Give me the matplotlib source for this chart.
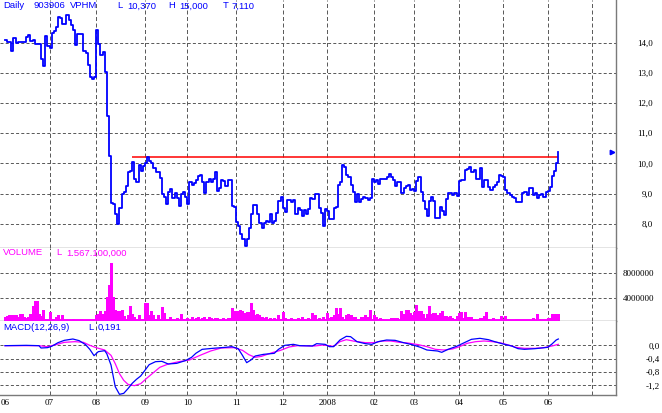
"""Daily chart 903906 VPHM: price, volume and MACD panels."""
import numpy as np
import pandas as pd
import matplotlib
matplotlib.use("Agg")
from matplotlib import pyplot as plt
from matplotlib import transforms

plt.rcParams['font.family'] = ['Liberation Sans', 'DejaVu Sans']

# ---------------------------------------------------------------------------
# Data (one value per trading day, from June 2007)
# ---------------------------------------------------------------------------
close = [
    14.08, 14.02, 14.02, 13.71, 14.14, 13.97, 14.01, 14.01, 14.01, 14.01,
    14.17, 14.25, 14.06, 14.08, 13.96, 13.96, 13.96, 13.46, 13.23, 14.22,
    13.89, 13.81, 14.31, 14.37, 14.51, 14.84, 14.82, 14.60, 14.61, 14.91,
    14.74, 14.58, 14.42, 13.92, 14.29, 14.27, 14.27, 13.71, 13.67, 13.26,
    12.85, 12.80, 12.86, 14.42, 13.95, 13.59, 13.68, 13.04, 11.57, 10.23,
    8.70, 8.66, 8.33, 8.00, 8.52, 8.98, 9.05, 9.25, 9.70, 9.75,
    10.05, 9.49, 9.37, 9.95, 9.74, 9.92,
    10.00, 10.20, 10.07, 10.03, 9.85, 9.71, 9.71, 9.51, 8.99, 8.88,
    8.66, 9.07, 9.14, 8.85, 9.01, 8.84, 8.59, 8.99, 9.05, 8.90,
    8.66, 9.37, 9.30, 9.34, 9.45, 9.60, 9.62, 9.37, 9.01, 9.37,
    9.50, 9.37, 9.50, 9.71, 9.10, 9.18, 9.45, 9.41, 9.25, 9.45,
    9.45, 8.60, 8.57, 8.07, 7.93, 7.68, 7.51, 7.27, 7.51, 7.85,
    8.33, 8.62, 8.62, 8.33, 8.04, 7.85, 8.02, 8.09, 8.07, 8.33,
    8.04, 8.09, 8.37, 8.75,
    8.90, 8.53, 8.39, 8.79, 8.79, 8.71, 8.79, 8.33, 8.53, 8.46,
    8.26, 8.46, 8.33, 8.49, 8.86, 8.82, 8.99, 8.99, 8.53, 8.37,
    7.93, 8.50, 8.41, 8.15, 8.15, 8.53, 8.57, 9.28, 9.37, 9.94,
    9.87, 9.63, 9.54, 9.28, 9.06, 8.73, 8.99, 8.73, 8.82, 8.90,
    8.84, 8.79, 8.85, 9.47, 9.39, 9.45, 9.32, 9.47, 9.47, 9.47,
    9.54, 9.65, 9.54, 9.45, 9.25, 9.39, 9.37, 9.01, 9.17, 9.24,
    9.30, 9.12, 9.14, 9.10, 9.43, 9.54,
    9.07, 8.74, 8.48, 8.26, 8.77, 8.90, 8.77, 8.18, 8.18, 8.57,
    8.44, 8.29, 8.81, 9.01, 9.01, 8.96, 9.01, 8.92, 9.42, 9.45,
    9.45, 9.78, 9.82, 9.87, 9.73, 9.78, 9.49, 9.49, 9.84, 9.23,
    9.45, 9.45, 9.23, 9.12, 9.23, 9.29, 9.40, 9.61, 9.59, 9.56,
    9.12, 9.01, 8.94, 8.90, 8.84, 8.73, 8.73, 8.73, 9.03, 9.07,
    8.96, 9.18, 9.18, 8.96, 9.01, 8.84, 8.97, 8.99, 8.90, 9.07,
    9.10, 9.23, 9.59, 9.76, 10.00, 10.37,
]

# volume in millions of shares
volume_m = [
    1.0, 1.1, 1.3, 1.3, 1.3, 1.4, 1.0, 1.5, 1.5, 1.0,
    0.8, 1.0, 1.5, 2.7, 3.6, 3.6, 1.5, 1.1, 2.1, 0.7,
    0.7, 1.8, 0.7, 0.5, 1.0, 1.3, 0.6, 1.3, 0.5, 0.5,
    0.5, 0.5, 0.7, 0.6, 0.5, 0.5, 0.7, 0.5, 0.6, 0.5,
    0.6, 0.5, 0.6, 1.3, 1.5, 1.9, 1.5, 2.0, 4.2, 6.1,
    9.7, 4.2, 2.1, 2.0, 2.0, 2.1, 1.1, 0.75, 1.3, 2.7,
    1.5, 1.0, 0.75, 1.3, 0.75, 0.75, 3.3, 3.3, 1.3, 2.0,
    1.3, 0.75, 1.3, 0.75, 2.6, 1.6, 0.75, 0.75, 1.0, 0.6,
    0.6, 0.8, 0.6, 1.5, 0.7, 0.6, 0.9, 0.6, 1.0, 0.6,
    0.8, 1.0, 0.6, 0.9, 1.0, 0.7, 1.0, 0.9, 0.6, 0.8,
    0.9, 0.7, 0.6, 0.8, 0.6, 0.8, 0.9, 2.5, 2.0, 2.0,
    2.0, 2.1, 2.0, 1.6, 1.8, 1.8, 3.2, 2.2, 1.3, 1.5,
    1.3, 1.0, 0.8, 1.0, 0.7, 0.8, 0.6, 0.9, 0.7, 1.3,
    0.7, 1.8, 0.8, 0.7, 0.6, 0.9, 0.7, 0.6, 0.8, 0.7,
    1.0, 0.7, 0.6, 0.9, 0.7, 1.7, 1.3, 0.6, 0.8, 0.7,
    1.0, 0.7, 1.6, 0.8,
    1.0, 1.3, 2.4, 1.5, 2.4, 1.0, 0.75, 1.3, 1.5, 1.3,
    1.0, 1.0, 0.75, 0.5, 1.0, 1.0, 1.3, 1.0, 2.1, 0.5,
    1.3, 1.0, 0.75, 0.85, 0.75, 0.5, 0.5, 0.5, 0.85, 0.85,
    0.85, 0.85, 0.75, 2.0, 1.5, 2.1, 2.1, 1.7, 1.3, 1.8,
    2.9, 1.9, 2.0, 1.5, 0.8, 1.5, 2.8, 1.5, 1.6, 1.7,
    1.3, 1.7, 2.0, 1.2, 1.2, 1.0, 1.1, 0.85, 0.75, 1.1,
    1.6, 1.8, 0.85, 1.8, 1.0, 1.0, 1.0, 0.75, 0.5, 0.6,
    0.85, 0.85, 1.1, 1.8, 0.75, 0.6, 0.85, 0.5, 0.6, 0.5,
    1.2, 0.75, 1.2, 0.75, 0.5, 0.5, 0.6, 0.75, 0.75, 0.5,
    0.5, 0.6, 0.5, 0.5, 0.5, 0.85, 0.5, 1.5, 0.75, 0.5,
    0.5, 0.5, 0.85, 0.9, 1.5, 1.5, 1.5, 1.57,
]

# MACD(12,26,9) read at selected trading days
macd_day = [0, 10, 16, 17, 20, 22, 25, 28, 32, 35, 38, 40, 42, 44, 47, 48,
            50, 52, 54, 56, 58, 60, 62, 64, 66, 68, 71, 74, 77, 81, 85, 88,
            90, 93, 98, 104, 107, 110, 112, 114, 116, 118, 122, 127, 129,
            132, 136, 139, 145, 147, 151, 153, 155, 158, 161, 163, 166, 170,
            173, 176, 180, 184, 188, 192, 196, 199, 204, 206, 209, 213, 216,
            220, 224, 228, 231, 235, 239, 242, 245, 250, 256, 258, 260, 261]
macd_val = [-0.01, 0.00, -0.01, -0.08, -0.07, -0.03, 0.08, 0.15, 0.19, 0.14,
            0.02, -0.12, -0.31, -0.19, -0.16, -0.25, -0.59, -1.24, -1.47,
            -1.44, -1.30, -1.14, -1.02, -0.92, -0.75, -0.58, -0.49, -0.48,
            -0.56, -0.54, -0.46, -0.36, -0.24, -0.12, -0.09, -0.06, -0.04,
            -0.10, -0.30, -0.52, -0.44, -0.32, -0.27, -0.24, -0.12, 0.00,
            0.03, -0.01, -0.02, 0.05, 0.03, -0.04, -0.04, 0.16, 0.27, 0.26,
            0.11, 0.05, 0.03, 0.11, 0.16, 0.15, 0.08, 0.02, -0.06, -0.14,
            -0.17, -0.21, -0.12, -0.03, 0.06, 0.18, 0.21, 0.17, 0.11, 0.04,
            -0.02, -0.10, -0.12, -0.10, -0.06, 0.04, 0.16, 0.19]
signal_day = [0, 16, 20, 24, 28, 33, 37, 40, 43, 47, 50, 52, 54, 56, 58, 61,
              64, 67, 70, 73, 77, 82, 87, 92, 97, 102, 108, 112, 115, 118,
              121, 126, 130, 134, 138, 146, 150, 155, 158, 161, 165, 170, 174,
              178, 182, 186, 190, 195, 199, 203, 207, 211, 214, 218, 222, 226,
              230, 234, 238, 241, 245, 250, 254, 258, 261]
signal_val = [-0.01, -0.01, -0.04, 0.02, 0.09, 0.11, 0.09, 0.00, -0.07,
              -0.14, -0.30, -0.55, -0.85, -1.05, -1.17, -1.21, -1.15, -0.98,
              -0.82, -0.66, -0.56, -0.49, -0.44, -0.30, -0.17, -0.08, -0.07,
              -0.15, -0.28, -0.36, -0.33, -0.22, -0.15, -0.05, -0.01, -0.02,
              0.01, -0.03, 0.11, 0.17, 0.12, 0.08, 0.08, 0.13, 0.13, 0.09,
              0.07, 0.02, -0.04, -0.12, -0.14, -0.11, -0.05, 0.06, 0.11,
              0.13, 0.11, 0.07, 0.00, -0.06, -0.09, -0.09, -0.07, -0.02, 0.03]

resistance = 10.22          # hand-drawn resistance line
resistance_from = 60        # trading day where it starts
vn_holidays = ['2008-01-01', '2008-02-07', '2008-02-08',
               '2008-04-30', '2008-05-01']

price_ticks = [8, 9, 10, 11, 12, 13, 14]
price_labels = ['8,0', '9,0', '10,0', '11,0', '12,0', '13,0', '14,0']
vol_ticks = [4e6, 8e6]
vol_labels = ['4000000', '8000000']
macd_ticks = [0.0, -0.4, -0.8, -1.2]
macd_labels = ['0,0', '-0,4', '-0,8', '-1,2']

# ---------------------------------------------------------------------------
BLUE = '#0000ff'
MAGENTA = '#ff00ff'
GRID = '#5c5c5c'
FRAME = '#7a7a7a'
W, H = 662, 413
PLOT_R = 616               # right frame, pixels

x = np.arange(len(close))
xlim = (-2.36, 288.2)

dates = pd.bdate_range('2007-06-01', periods=len(close) + 30, freq='C',
                       holidays=vn_holidays)
months = dates.to_period('M')
month_idx = [0] + [i for i in range(1, len(dates))
                   if months[i] != months[i - 1]]
last_month = months[len(close) - 1]
lab_idx = [i for i in month_idx if months[i] <= last_month]
lab_txt = [str(dates[i].year) if dates[i].month == 1
           else f"{dates[i].month:02d}" for i in lab_idx]

fig = plt.figure(figsize=(W / 100, H / 100), dpi=100)


def panel(top, bottom):
    ax = fig.add_axes([0, 1 - bottom / H, PLOT_R / W, (bottom - top) / H])
    ax.set_xlim(*xlim)
    for s in ('top', 'left'):
        ax.spines[s].set_visible(False)
    for s in ('right', 'bottom'):
        ax.spines[s].set_color(FRAME)
        ax.spines[s].set_linewidth(1.0)
    for i in month_idx[1:]:
        ax.axvline(i, color=GRID, lw=0.72, ls=(0, (4, 2.5)), zorder=0)
    ax.set_xticks([])
    ax.yaxis.tick_right()
    ax.tick_params(axis='y', length=0, labelsize=6.5)
    return ax


def ylabels(ax, ticks, labels, pad, ha):
    ax.set_yticks(ticks)
    ax.set_yticklabels(labels, family='Liberation Serif', ha=ha)
    ax.tick_params(axis='y', pad=pad)
    ax.grid(axis='y', color=GRID, lw=0.72, ls=(0, (3, 2.2)), zorder=0)


# price panel
ax_p = panel(0, 248)
ax_p.plot(x, close, drawstyle='steps-post', color=BLUE, lw=1.3, zorder=3)
ax_p.hlines(resistance, resistance_from, x[-1], color='red', lw=1.1,
            zorder=2)
trans = transforms.blended_transform_factory(ax_p.transAxes, ax_p.transData)
ax_p.plot([0.993], [close[-1]], marker='>', ms=3.2, color=BLUE,
          transform=trans, clip_on=False)
ax_p.set_ylim(7.20, 15.41)
ylabels(ax_p, price_ticks, price_labels, 26.6, 'right')

# volume panel: one thin bar per day
ax_v = panel(248, 321)
ax_v.vlines(x, 0, np.array(volume_m) * 1e6, color=MAGENTA, lw=0.75,
            antialiased=False, zorder=2)
ax_v.hlines(0.55e6, x[0], x[-1], color=MAGENTA, lw=1.4, zorder=3)
ax_v.set_ylim(0.37e6, 12.05e6)
ylabels(ax_v, vol_ticks, vol_labels, 5, 'left')

# MACD panel
ax_m = panel(321, 395)
ax_m.plot(signal_day, signal_val, color=MAGENTA, lw=0.9, zorder=2)
ax_m.plot(macd_day, macd_val, color=BLUE, lw=0.9, zorder=3)
ax_m.set_ylim(-1.49, 0.73)
ylabels(ax_m, macd_ticks, macd_labels, 31.7, 'right')
ax_m.set_xticks(lab_idx)
ax_m.set_xticklabels(lab_txt, family='Liberation Serif', fontsize=6.5)
ax_m.tick_params(axis='x', length=0, pad=3)


def label(px, py, s, color):
    fig.text(px / W, 1 - py / H, s, color=color, fontsize=6.8,
             ha='left', va='center')


label(3, 6, 'Daily', BLUE)
label(34, 6, '903906', BLUE)
label(70, 6, 'VPHM', BLUE)
label(117, 6, 'L', BLUE)
label(127, 6, '10,370', BLUE)
label(168, 6, 'H', BLUE)
label(179, 6, '15,000', BLUE)
label(223, 6, 'T', BLUE)
label(231, 6, '7,110', BLUE)
label(3, 253, 'VOLUME', MAGENTA)
label(56, 253, 'L', MAGENTA)
label(66, 253, '1.567.100,000', MAGENTA)
label(3, 327, 'MACD(12,26,9)', BLUE)
label(88, 327, 'L', BLUE)
label(98, 327, '0,191', BLUE)

fig.savefig('out.png', dpi=100)
